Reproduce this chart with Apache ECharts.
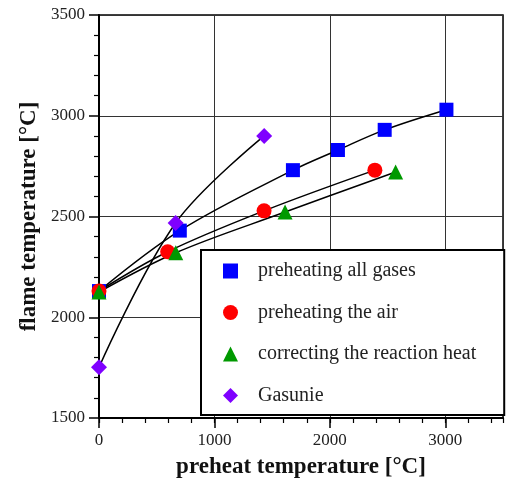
<!DOCTYPE html>
<html>
<head>
<meta charset="utf-8">
<script src="https://cdn.jsdelivr.net/npm/echarts@6/dist/echarts.min.js"></script>
<style>
html, body { margin: 0; padding: 0; background: #fff; }
#chart { width: 506px; height: 490px; }
</style>
</head>
<body>
<div id="chart"></div>
<script>
// data: [preheat °C, flame °C]
var allGases = [[0, 2130], [700, 2430], [1680, 2730], [2070, 2830], [2475, 2930], [3010, 3030]];
var airOnly = [[0, 2130], [595, 2325], [1430, 2528], [2390, 2730]];
var reactionHeat = [[0, 2125], [665, 2320], [1612, 2522], [2570, 2721]];
var gasunie = [[0, 1752], [664, 2468], [1431, 2900]];

var names = ['preheating all gases', 'preheating the air', 'correcting the reaction heat', 'Gasunie'];
var colors = ['#0000ff', '#ff0000', '#009900', '#7f00ff'];
var symbols = ['rect', 'circle', 'triangle', 'diamond'];
var sizes = [14, 15, 15, 16];
var sets = [allGases, airOnly, reactionHeat, gasunie];

var font = '"Liberation Serif", "DejaVu Serif", serif';

var chart = echarts.init(document.getElementById('chart'));

var series = [];
sets.forEach(function (d, i) {
	// black connecting curve
	series.push({
		name: names[i] + ' line',
		type: 'line',
		data: d,
		smooth: 0.35,
		showSymbol: false,
		silent: true,
		z: 2,
		lineStyle: { color: '#000', width: 1.5 }
	});
});
sets.forEach(function (d, i) {
	series.push({
		name: names[i],
		type: 'scatter',
		data: d,
		symbol: symbols[i],
		symbolSize: sizes[i],
		z: 3,
		itemStyle: { color: colors[i], opacity: 1 }
	});
});

var plain = function (v) { return String(v); };

var option = {
	animation: false,
	grid: { left: 99, right: 3, top: 15, bottom: 72, show: true, borderColor: '#000', borderWidth: 1.5 },
	legend: {
		data: names.map(function (n, i) { return { name: n, icon: symbols[i] }; }),
		orient: 'vertical',
		left: 201,
		top: 250,
		itemWidth: 15,
		itemHeight: 15,
		itemGap: 21.5,
		padding: [11, 28, 9.5, 22],
		backgroundColor: '#fff',
		borderColor: '#000',
		borderWidth: 2,
		selectedMode: false,
		textStyle: { fontFamily: font, fontSize: 20, color: '#222', padding: [0, 0, 0, 15] }
	},
	xAxis: [{
		type: 'value',
		min: 0,
		max: 3500,
		interval: 1000,
		name: 'preheat temperature [°C]',
		nameLocation: 'middle',
		nameGap: 38,
		nameTextStyle: { fontFamily: font, fontSize: 23, fontWeight: 'bold', color: '#111' },
		axisLine: { lineStyle: { color: '#000', width: 2 } },
		axisTick: { show: true, length: 10, inside: false, lineStyle: { color: '#000', width: 1.5 } },
		axisLabel: { fontFamily: font, fontSize: 17, color: '#222', margin: 14, showMaxLabel: false, formatter: plain },
		splitLine: { show: true, lineStyle: { color: '#333', width: 1 } }
	}, {
		// minor ticks every 200
		type: 'value',
		position: 'bottom',
		min: 0,
		max: 3500,
		interval: 200,
		axisLine: { show: false },
		axisTick: { show: true, length: 5, lineStyle: { color: '#000', width: 1.2 } },
		axisLabel: { show: false },
		splitLine: { show: false }
	}],
	yAxis: {
		type: 'value',
		min: 1500,
		max: 3500,
		interval: 500,
		name: 'flame temperature [°C]',
		nameLocation: 'middle',
		nameGap: 54,
		nameTextStyle: { fontFamily: font, fontSize: 23, fontWeight: 'bold', color: '#111' },
		axisLine: { show: true, lineStyle: { color: '#000', width: 2 } },
		axisTick: { show: true, length: 10, lineStyle: { color: '#000', width: 1.5 } },
		minorTick: { show: true, splitNumber: 5, length: 5, lineStyle: { color: '#000', width: 1.2 } },
		axisLabel: { fontFamily: font, fontSize: 17, color: '#222', margin: 14, formatter: plain },
		splitLine: { show: true, lineStyle: { color: '#333', width: 1 } }
	},
	series: series
};

chart.setOption(option);
</script>
</body>
</html>
